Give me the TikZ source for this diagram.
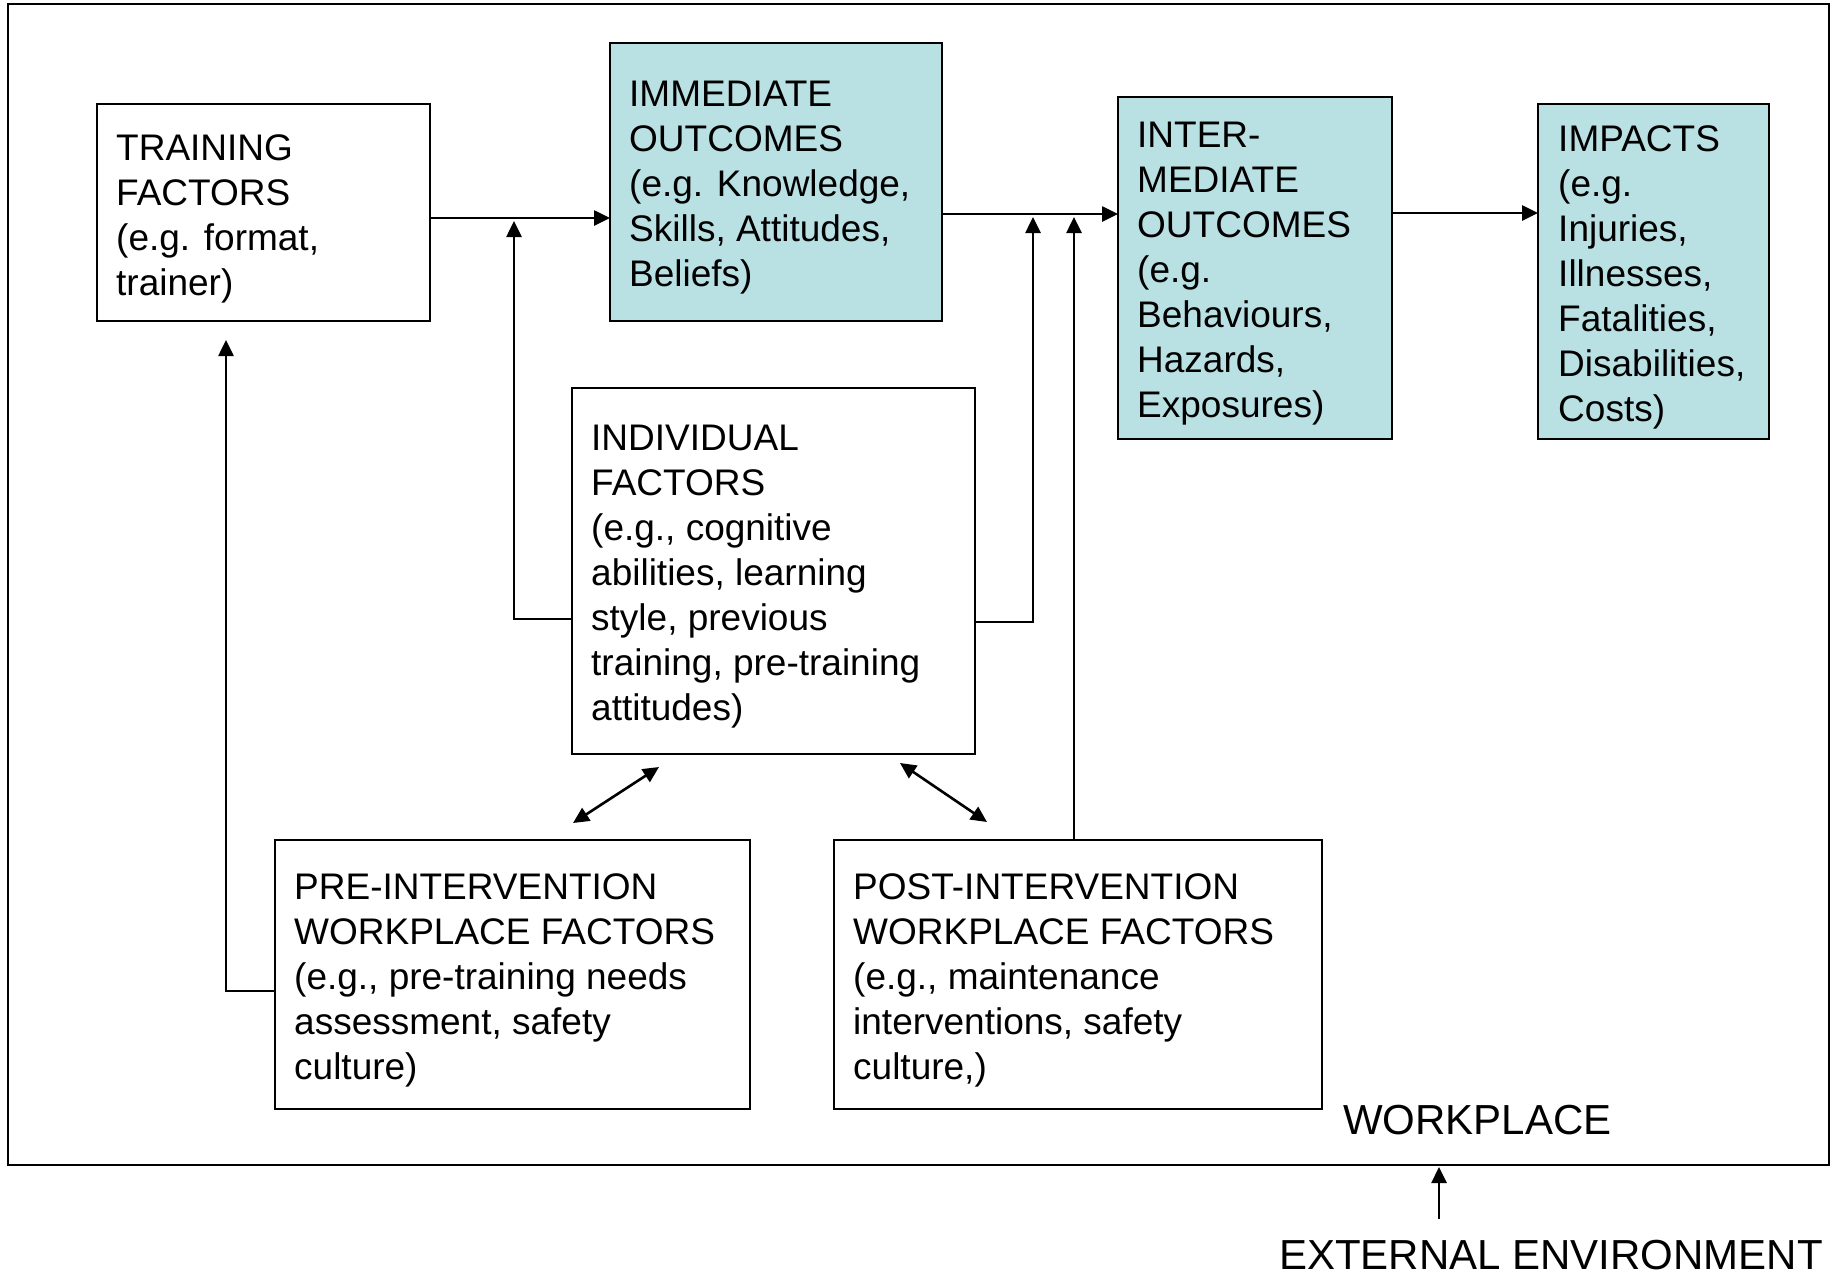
\documentclass[tikz,border=0pt]{standalone}
\usepackage{fontspec}
\setmainfont{Liberation Sans}
\usetikzlibrary{arrows.meta}
\definecolor{boxblue}{RGB}{185,224,227}
\begin{document}
\begin{tikzpicture}[x=1pt,y=-1pt,
  box/.style={draw, line width=2pt, anchor=north west, inner sep=0pt, outer sep=0pt},
  bluebox/.style={box, fill=boxblue},
  txt/.style={anchor=west, inner sep=0pt, align=left, font=\fontsize{37}{45}\selectfont},
  big/.style={inner sep=0pt, font=\fontsize{42}{50}\selectfont},
  link/.style={line width=2.6pt, -{Triangle[length=16pt,width=15pt]}},
  dlink/.style={line width=2.6pt, {Triangle[length=16pt,width=15pt]}-{Triangle[length=16pt,width=15pt]}}]
\useasboundingbox (0,0) rectangle (1837,1275);
% outer workplace frame
\node[draw, line width=2.8pt, minimum width=1821pt, minimum height=1161pt, inner sep=0pt] (outer) at (918.5,584.5) {};
% boxes
\node[box, minimum width=333pt, minimum height=217pt] (train) at (97,104) {};
\node[bluebox, minimum width=332pt, minimum height=278pt] (imm) at (610,43) {};
\node[bluebox, minimum width=274pt, minimum height=342pt] (inter) at (1118,97) {};
\node[bluebox, minimum width=231pt, minimum height=335pt] (imp) at (1538,104) {};
\node[box, minimum width=403pt, minimum height=366pt] (indiv) at (572,388) {};
\node[box, minimum width=475pt, minimum height=269pt] (pre) at (275,840) {};
\node[box, minimum width=488pt, minimum height=269pt] (post) at (834,840) {};
% texts
\node[txt] (train-t) at ([xshift=19pt,yshift=-6pt]train.west) {TRAINING\\FACTORS\\(e.g. format,\\trainer)};
\node[txt] (imm-t) at ([xshift=19pt,yshift=-6pt]imm.west) {IMMEDIATE\\OUTCOMES\\(e.g. Knowledge,\\Skills, Attitudes,\\Beliefs)};
\node[txt] (inter-t) at ([xshift=19pt,yshift=-6pt]inter.west) {INTER-\\MEDIATE\\OUTCOMES\\(e.g.\\Behaviours,\\Hazards,\\Exposures)};
\node[txt] (imp-t) at ([xshift=20pt,yshift=-6pt]imp.west) {IMPACTS\\(e.g.\\Injuries,\\Illnesses,\\Fatalities,\\Disabilities,\\Costs)};
\node[txt] (indiv-t) at ([xshift=19pt,yshift=-6pt]indiv.west) {INDIVIDUAL\\FACTORS\\(e.g., cognitive\\abilities, learning\\style, previous\\training, pre-training\\attitudes)};
\node[txt] (pre-t) at ([xshift=19pt,yshift=-6pt]pre.west) {PRE-INTERVENTION\\WORKPLACE FACTORS\\(e.g., pre-training needs\\assessment, safety\\culture)};
\node[txt] (post-t) at ([xshift=19pt,yshift=-6pt]post.west) {POST-INTERVENTION\\WORKPLACE FACTORS\\(e.g., maintenance\\interventions, safety\\culture,)};
\node[big, anchor=base west] (wp) at (1343,1134) {WORKPLACE};
\node[big, anchor=base west] (ext) at (1279,1269) {EXTERNAL ENVIRONMENT};
% junction coordinates
\coordinate (a1) at (430,218);
\coordinate (a2) at (610,218);
\coordinate (b1) at (942,214);
\coordinate (b2) at (1118,214);
\coordinate (c1) at (1392,213);
\coordinate (c2) at (1538,213);
\coordinate (iL) at (572,619);
\coordinate (kL) at (514,619);
\coordinate (tL) at (514,221);
\coordinate (iR) at (975,622);
\coordinate (kR) at (1033,622);
\coordinate (tR) at (1033,217);
\coordinate (pT) at (1074,840);
\coordinate (tP) at (1074,217);
\coordinate (preL) at (275,991);
\coordinate (kP) at (226,991);
\coordinate (tT) at (226,340);
\coordinate (d1a) at (573,823);
\coordinate (d1b) at (659,767);
\coordinate (d2a) at (900,763);
\coordinate (d2b) at (987,822);
\coordinate (e1) at (1439,1219);
\coordinate (e2) at (1439,1167);
% connectors
\draw[link] (a1) -- (a2);
\draw[link] (b1) -- (b2);
\draw[link] (c1) -- (c2);
\draw[link] (iL) -- (kL) -- (tL);
\draw[link] (iR) -- (kR) -- (tR);
\draw[link] (pT) -- (tP);
\draw[link] (preL) -- (kP) -- (tT);
\draw[dlink] (d1a) -- (d1b);
\draw[dlink] (d2a) -- (d2b);
\draw[link] (e1) -- (e2);
\end{tikzpicture}
\end{document}
